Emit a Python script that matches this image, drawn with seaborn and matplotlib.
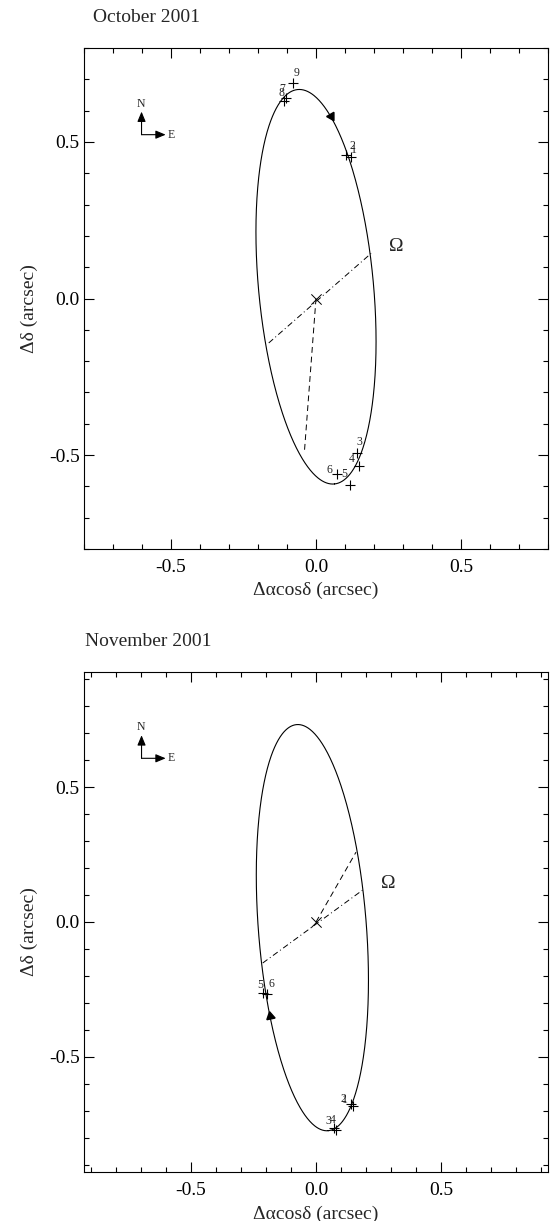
import numpy as np
import pandas as pd
import matplotlib
matplotlib.use("Agg")
import matplotlib.pyplot as plt
import seaborn as sns
from matplotlib.ticker import MultipleLocator

# ---------------- data ----------------
# October 2001 observed relative positions (arcsec)
oct_labels = ["1", "2", "3", "4", "5", "6", "7", "8", "9"]
oct_x = [0.121, 0.103, 0.143, 0.149, 0.117, 0.071, -0.105, -0.110, -0.081]
oct_y = [0.452, 0.459, -0.494, -0.534, -0.596, -0.561, 0.640, 0.632, 0.687]
# fitted (projected) orbit ellipse: centre, semi-axes, tilt of major axis (deg)
oct_center = (0.0, 0.0375)
oct_axes = (0.633, 0.198)
oct_tilt = -84.2
oct_periastron = (-0.040, -0.49)
oct_node_x = [-0.163, 0.190]
oct_node_y = [-0.142, 0.144]
oct_arrow_at = (0.052, 0.582)
oct_omega_at = (0.278, 0.165)

# November 2001
nov_labels = ["1", "2", "3", "4", "5", "6"]
nov_x = [0.146, 0.140, 0.073, 0.080, -0.211, -0.198]
nov_y = [-0.683, -0.675, -0.765, -0.771, -0.263, -0.268]
nov_center = (-0.0145, -0.021)
nov_axes = (0.7555, 0.216)
nov_tilt = -85.2
nov_periastron = (0.160, 0.259)
nov_node_x = [-0.213, 0.189]
nov_node_y = [-0.152, 0.120]
nov_arrow_at = (-0.180, -0.346)
nov_omega_at = (0.290, 0.142)

# label offsets (points) of the epoch numbers relative to their marker
oct_label_off = [(1.9, 5.3), (4.8, 6.5), (1.2, 8.4), (-5.5, 4.8), (-4.1, 7.9),
                 (-5.3, 2.9), (-2.1, 6.2), (-2.2, 5.6), (3.2, 7.7)]
nov_label_off = [(-5.8, 4.3), (-5.5, 3.4), (-4.1, 5.5), (-2.4, 7.2),
                 (-2.2, 5.5), (3.2, 7.2)]

# ---------------- style ----------------
sns.set_style("ticks")
plt.rcParams["font.family"] = ["Liberation Serif", "DejaVu Serif"]
plt.rcParams["axes.linewidth"] = 0.8

fig = plt.figure(figsize=(5.51, 12.21), dpi=100)
W, H = 551.0, 1221.0


def ax_rect(l, t, r, b):
    return [l / W, 1 - b / H, (r - l) / W, (b - t) / H]


ax1 = fig.add_axes(ax_rect(84, 48, 548, 549))
ax2 = fig.add_axes(ax_rect(84, 671.7, 548, 1172.3))


def ellipse_df(center, axes_, tilt):
    t = np.linspace(0, 2 * np.pi, 721)
    th = np.deg2rad(tilt)
    a, b = axes_
    x = center[0] + a * np.cos(th) * np.cos(t) - b * np.sin(th) * np.sin(t)
    y = center[1] + a * np.sin(th) * np.cos(t) + b * np.cos(th) * np.sin(t)
    return pd.DataFrame({"x": x, "y": y, "order": np.arange(len(t))})


def draw_panel(ax, lim, labels, xs, ys, offs, center, axes_, tilt,
               peri, node_x, node_y, arrow_at, omega_at, title, title_xy):
    ax.set_xlim(-lim[0], lim[0])
    ax.set_ylim(-lim[1], lim[1])

    ell = ellipse_df(center, axes_, tilt)
    sns.lineplot(data=ell, x="x", y="y", sort=False, estimator=None,
                 color="k", lw=0.8, ax=ax)

    # periastron (dashed) and line of nodes (dash-dot)
    sns.lineplot(x=[0.0, peri[0]], y=[0.0, peri[1]], sort=False, estimator=None,
                 color="k", lw=0.7, ax=ax, dashes=False, linestyle=(0, (6, 4)))
    sns.lineplot(x=node_x, y=node_y, sort=False, estimator=None, color="k",
                 lw=0.7, ax=ax, linestyle=(0, (6, 3, 1, 3)))

    # primary at origin
    sns.scatterplot(x=[0.0], y=[0.0], marker="x", s=55, color="k",
                    linewidth=0.7, ax=ax)

    # observed positions
    df = pd.DataFrame({"x": xs, "y": ys, "lab": labels})
    sns.scatterplot(data=df, x="x", y="y", marker="+", s=55, color="k",
                    linewidth=0.8, ax=ax)
    for (lab, x, y), (dx, dy) in zip(zip(labels, xs, ys), offs):
        ax.annotate(lab, (x, y), xytext=(dx, dy), textcoords="offset points",
                    ha="center", va="center", fontsize=8.5)

    # direction-of-motion arrow head on the orbit (clockwise motion)
    d = (ell["x"] - arrow_at[0]) ** 2 + (ell["y"] - arrow_at[1]) ** 2
    i = int(np.argmin(d.values))
    p0 = ax.transData.transform((ell["x"].iloc[i], ell["y"].iloc[i]))
    p1 = ax.transData.transform((ell["x"].iloc[i - 1], ell["y"].iloc[i - 1]))
    ang = np.degrees(np.arctan2(p1[1] - p0[1], p1[0] - p0[0]))
    ax.plot([ell["x"].iloc[i]], [ell["y"].iloc[i]], marker=(3, 0, ang - 90),
            markersize=7, color="k", linestyle="none")

    ax.text(omega_at[0], omega_at[1], "\u03a9", fontsize=14, ha="center",
            va="center")

    # compass
    o = (0.124, 0.827)
    ax.annotate("", xy=(o[0], 0.873), xytext=o, xycoords="axes fraction",
                textcoords="axes fraction",
                arrowprops=dict(arrowstyle="-|>,head_length=0.6,head_width=0.25",
                                color="k", lw=0.8, shrinkA=0, shrinkB=0))
    ax.annotate("", xy=(0.176, o[1]), xytext=o, xycoords="axes fraction",
                textcoords="axes fraction",
                arrowprops=dict(arrowstyle="-|>,head_length=0.6,head_width=0.25",
                                color="k", lw=0.8, shrinkA=0, shrinkB=0))
    ax.text(0.123, 0.889, "N", transform=ax.transAxes, ha="center",
            va="center", fontsize=8.5)
    ax.text(0.181, o[1], "E", transform=ax.transAxes, ha="left",
            va="center", fontsize=8.5)

    # axes decoration
    ax.xaxis.set_major_locator(MultipleLocator(0.5))
    ax.xaxis.set_minor_locator(MultipleLocator(0.1))
    ax.yaxis.set_major_locator(MultipleLocator(0.5))
    ax.yaxis.set_minor_locator(MultipleLocator(0.1))
    ax.xaxis.set_major_formatter(lambda v, p: f"{v:.1f}".replace("-0.0", "0.0"))
    ax.yaxis.set_major_formatter(lambda v, p: f"{v:.1f}".replace("-0.0", "0.0"))
    ax.tick_params(which="both", direction="in", top=True, right=True,
                   width=0.8, colors="k", labelsize=14)
    ax.tick_params(which="major", length=7.2)
    ax.tick_params(which="minor", length=3.6)
    ax.tick_params(axis="x", which="major", pad=7)
    ax.tick_params(axis="y", which="major", pad=3)
    for s in ax.spines.values():
        s.set_color("k")
        s.set_linewidth(0.8)

    ax.set_xlabel("\u0394\u03b1cos\u03b4 (arcsec)", fontsize=14)
    ax.set_ylabel("\u0394\u03b4 (arcsec)", fontsize=14)
    ax.xaxis.set_label_coords(0.5, -0.066)
    ax.yaxis.set_label_coords(-0.10, 0.48)

    fig.text(title_xy[0] / W, 1 - title_xy[1] / H, title, ha="left",
             va="center", fontsize=14)


draw_panel(ax1, (0.8, 0.8), oct_labels, oct_x, oct_y, oct_label_off,
           oct_center, oct_axes, oct_tilt, oct_periastron, oct_node_x,
           oct_node_y, oct_arrow_at, oct_omega_at, "October 2001", (93, 18))
draw_panel(ax2, (0.928, 0.928), nov_labels, nov_x, nov_y, nov_label_off,
           nov_center, nov_axes, nov_tilt, nov_periastron, nov_node_x,
           nov_node_y, nov_arrow_at, nov_omega_at, "November 2001", (85, 641))

fig.savefig("out.png", dpi=100)
